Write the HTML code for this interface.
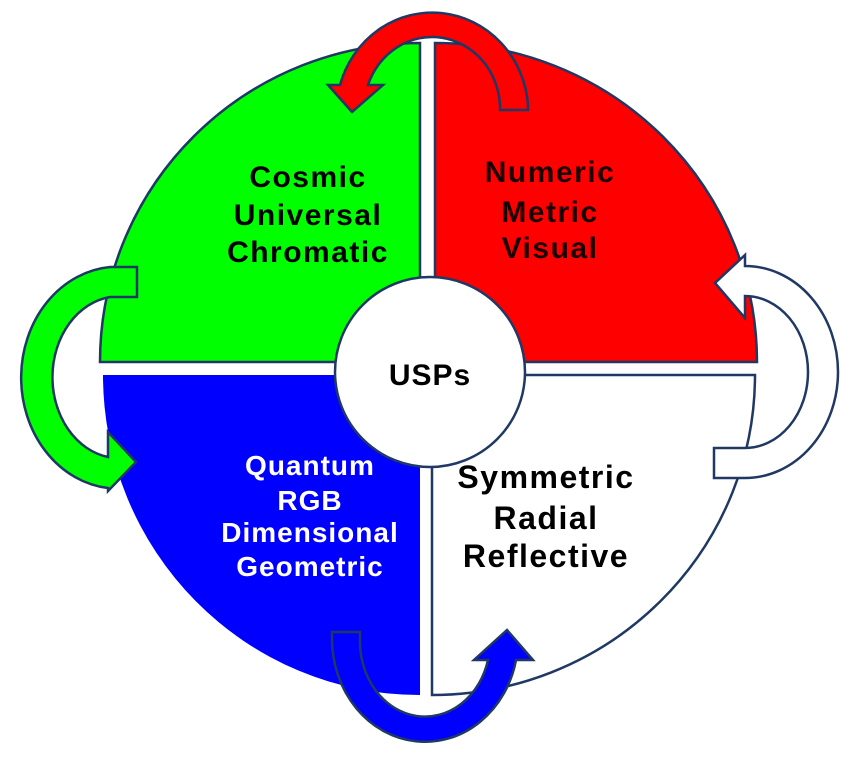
<!DOCTYPE html>
<html><head><meta charset="utf-8"><style>
html,body{margin:0;padding:0;background:#fff;width:851px;height:760px;overflow:hidden}
svg{display:block}
text{font-family:"Liberation Sans",Arial,sans-serif;font-weight:bold;text-anchor:middle}
</style></head><body>
<svg width="851" height="760" viewBox="0 0 851 760" xmlns="http://www.w3.org/2000/svg">
<g stroke="#1f3864" stroke-width="2.5" stroke-linejoin="miter">
<path d="M420,362 L100,362 A320,319 0 0 1 420,43 Z" fill="#00ff00"/>
<path d="M435,362 L435,43 A322,319 0 0 1 757,362 Z" fill="#ff0000"/>
<path d="M420,375 L103,375 A317,320 0 0 0 420,695 Z" fill="#0000ff" stroke="none"/>
<path d="M432,375 L755,375 A323,320 0 0 1 432,695 Z" fill="#ffffff"/>
<circle cx="430" cy="372" r="95" fill="#fff"/>
<path d="M528,110 L528,105 A96,100 0 0 0 340,85 L328,85 L352,112 L383,85 L368,85 A68,72 0 0 1 500,105 L500,110 Z" fill="#ff0000"/>
<path d="M137,267 L110,267 A97,111 0 0 0 108,488 L108,491 L136,462 L108,432 L108,457 A67,81 0 0 1 110,297 L137,297 Z" fill="#00ff00"/>
<path d="M332,632 L332,640 A93,103 0 0 0 516,660 L533,660 L507,630 L474,660 L488,660 A65,75 0 0 1 360,640 L360,632 Z" fill="#0000ff"/>
<path d="M714,478 L745,478 A93,106 0 0 0 745,266 L745,255 L715,283 L745,318 L745,296 A63,76 0 0 1 745,448 L714,448 Z" fill="#ffffff"/>
</g>
<g font-size="30" fill="#000" letter-spacing="1.5">
<text x="308" y="187">Cosmic</text>
<text x="308" y="225">Universal</text>
<text x="308" y="262">Chromatic</text>
</g>
<g font-size="30" fill="#1a0000" letter-spacing="1.5">
<text x="550" y="182">Numeric</text>
<text x="550" y="222">Metric</text>
<text x="550" y="258">Visual</text>
</g>
<g font-size="28" fill="#fff" letter-spacing="1">
<text x="310" y="475">Quantum</text>
<text x="310" y="510">RGB</text>
<text x="310" y="542">Dimensional</text>
<text x="310" y="576">Geometric</text>
</g>
<g font-size="32" fill="#000" letter-spacing="1.5">
<text x="546" y="488">Symmetric</text>
<text x="546" y="529">Radial</text>
<text x="546" y="567">Reflective</text>
</g>
<text x="430" y="385" font-size="30" fill="#000" letter-spacing="1">USPs</text>
</svg>
</body></html>
